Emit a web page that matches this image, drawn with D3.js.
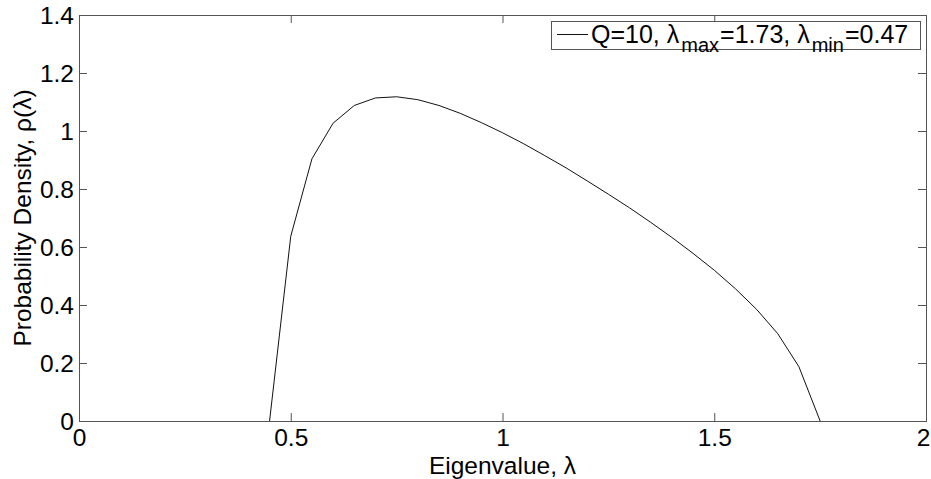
<!DOCTYPE html>
<html><head><meta charset="utf-8">
<script src="https://cdn.jsdelivr.net/npm/d3@7"></script>
<style>
body{margin:0;background:#fff;}
text{font-family:Arial,"Liberation Sans",Helvetica,sans-serif;fill:#000;}
</style></head>
<body>
<svg id="chart" width="931" height="479"></svg>
<script>
const lambdaValues = [0.45,0.50,0.55,0.60,0.65,0.70,0.75,0.80,0.85,0.90,0.95,1.00,1.05,1.10,1.15,1.20,1.25,1.30,1.35,1.40,1.45,1.50,1.55,1.60,1.65,1.70,1.75];
const densityValues = [0,0.637,0.904,1.027,1.088,1.114,1.118,1.108,1.088,1.061,1.029,0.994,0.956,0.915,0.873,0.828,0.782,0.735,0.685,0.633,0.578,0.520,0.456,0.385,0.301,0.187,0];
const xTicks = [0,0.5,1,1.5,2];
const yTicks = [0,0.2,0.4,0.6,0.8,1,1.2,1.4];
const xLabelText = "Eigenvalue, λ";
const yLabelText = "Probability Density, ρ(λ)";

const svg = d3.select("#chart");
const L = 79, R = 926, T = 15, B = 421;
const x = d3.scaleLinear().domain([0,2]).range([L,R]);
const y = d3.scaleLinear().domain([0,1.4]).range([B,T]);
const axisColor = "#555";
const tickLen = 8;
const fs = 24.5;

// curve
const data = lambdaValues.map((v,i)=>[v,densityValues[i]]);
svg.append("path").datum(data)
  .attr("fill","none").attr("stroke","#111").attr("stroke-width",1)
  .attr("d", d3.line().x(d=>x(d[0])).y(d=>y(d[1])));

// axes via d3
const fmt = d => String(d);
const gb = svg.append("g").attr("transform",`translate(0,${B})`)
  .call(d3.axisBottom(x).tickValues(xTicks).tickFormat(fmt).tickSize(-tickLen).tickPadding(8));
const gt = svg.append("g").attr("transform",`translate(0,${T})`)
  .call(d3.axisTop(x).tickValues(xTicks).tickFormat("").tickSize(-tickLen));
const gl = svg.append("g").attr("transform",`translate(${L},0)`)
  .call(d3.axisLeft(y).tickValues(yTicks).tickFormat(fmt).tickSize(-tickLen).tickPadding(5));
const gr = svg.append("g").attr("transform",`translate(${R},0)`)
  .call(d3.axisRight(y).tickValues(yTicks).tickFormat("").tickSize(-tickLen));
[gb,gt,gl,gr].forEach(g=>{
  g.selectAll(".tick line").attr("stroke",axisColor);
  g.selectAll(".tick text").attr("font-size",fs).attr("font-family","Arial, 'Liberation Sans', sans-serif").attr("fill","#000");
  g.select(".domain").remove();
});
svg.append("rect").attr("x",L+0.5).attr("y",T+0.5).attr("width",R-L).attr("height",B-T)
  .attr("fill","none").attr("stroke",axisColor).attr("stroke-width",1);
gb.selectAll(".tick text").attr("dy","0.71em");
gb.selectAll(".tick").filter(d=>d===2).select("text").attr("dx",-3);
gl.selectAll(".tick text").attr("dy","0.35em");

// axis labels
svg.append("text").attr("x",(L+R)/2).attr("y",474).attr("text-anchor","middle")
  .attr("font-size",fs).text(xLabelText);
svg.append("text").attr("transform",`translate(31,${(T+B)/2}) rotate(-90)`).attr("text-anchor","middle")
  .attr("font-size",fs).text(yLabelText);

// legend
const lg = svg.append("g");
lg.append("rect").attr("x",551.5).attr("y",21.5).attr("width",369).attr("height",28)
  .attr("fill","#fff").attr("stroke",axisColor).attr("stroke-width",1);
lg.append("line").attr("x1",557).attr("x2",588).attr("y1",34.5).attr("y2",34.5)
  .attr("stroke","#111").attr("stroke-width",1);
const lt = lg.append("text").attr("x",591).attr("y",43).attr("font-size",25);
lt.append("tspan").text("Q=10, λ");
lt.append("tspan").attr("font-size",20).attr("dy",9).attr("dx",2).text("max");
lt.append("tspan").attr("dy",-9).attr("dx",1).text("=1.73, λ");
lt.append("tspan").attr("font-size",20).attr("dy",9).attr("dx",2).text("min");
lt.append("tspan").attr("dy",-9).attr("dx",1).text("=0.47");
</script>
</body></html>
